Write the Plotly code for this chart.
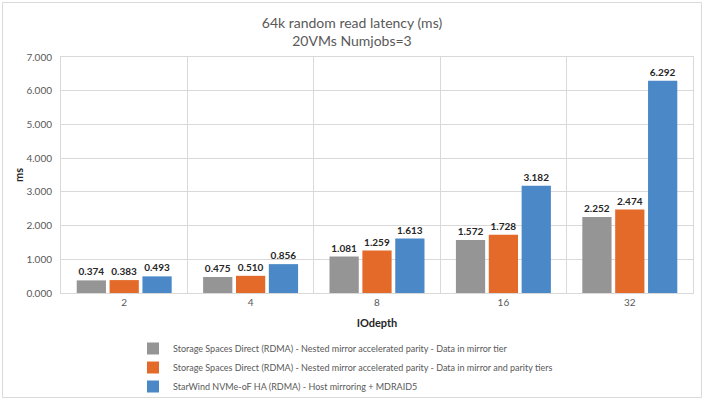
import plotly.graph_objects as go

categories = ["2", "4", "8", "16", "32"]
series_names = [
    "Storage Spaces Direct (RDMA) - Nested mirror accelerated parity - Data in mirror tier",
    "Storage Spaces Direct (RDMA) - Nested mirror accelerated parity - Data in mirror and parity tiers",
    "StarWind NVMe-oF HA (RDMA) - Host mirroring + MDRAID5",
]
s2d_mirror = [0.374, 0.475, 1.081, 1.572, 2.252]
s2d_mirror_parity = [0.383, 0.510, 1.259, 1.728, 2.474]
starwind = [0.493, 0.856, 1.613, 3.182, 6.292]
colors = ["#959595", "#E46A2A", "#4A88C8"]

W, H = 704, 400
L, R, T, B = 61, 11, 57, 107
FONT = "Lato, Open Sans, sans-serif"

fig = go.Figure()
for name, vals, col in zip(series_names, [s2d_mirror, s2d_mirror_parity, starwind], colors):
    fig.add_trace(go.Bar(
        x=categories, y=vals, name=name,
        marker=dict(color=col, line=dict(width=0)),
        text=[f"{v:.3f}" for v in vals],
        textposition="outside",
        textfont=dict(size=10, color="#262626", family=FONT),
        texttemplate="<b>%{text}</b>",
        cliponaxis=False,
    ))

pw = W - L - R
ph = H - T - B
def px_x(p):
    return (p - L) / pw
def px_y(p):
    return (H - B - p) / ph

fig.update_layout(
    width=W, height=H,
    margin=dict(l=L, r=R, t=T, b=B, autoexpand=False),
    paper_bgcolor="white", plot_bgcolor="white",
    font=dict(family=FONT, color="#595959"),
    title=dict(
        text="64k random read latency (ms)<br>20VMs Numjobs=3",
        x=0.5, xanchor="center", y=0.93, yanchor="top",
        font=dict(size=14, color="#595959", family=FONT),
    ),
    barmode="group", bargap=0.22, bargroupgap=0.11,
    xaxis=dict(
        type="category", tickson="boundaries",
        showgrid=True, gridcolor="#D9D9D9", gridwidth=1,
        showline=True, linecolor="#D9D9D9", mirror=True,
        ticks="", tickfont=dict(size=10, color="#595959"),
        title=dict(text="<b>IOdepth</b>", font=dict(size=11, color="#262626"), standoff=12),
    ),
    yaxis=dict(
        range=[0, 7], dtick=1, tickformat=".3f",
        showgrid=True, gridcolor="#D9D9D9", gridwidth=1,
        showline=True, linecolor="#D9D9D9", mirror=True,
        zeroline=False, ticks="", tickfont=dict(size=10, color="#595959"),
        ticklabelstandoff=6,
        title=dict(text="<b>ms</b>", font=dict(size=11, color="#262626"), standoff=0),
    ),
    legend=dict(
        orientation="v", x=px_x(133), xanchor="left", y=px_y(334), yanchor="top",
        font=dict(size=9, color="#595959"), tracegroupgap=0,
        itemsizing="constant", bgcolor="rgba(0,0,0,0)",
    ),
    showlegend=True,
    shapes=[dict(
        type="rect", xref="paper", yref="paper",
        x0=px_x(2.5), x1=px_x(701.5), y0=px_y(397.5), y1=px_y(2.5),
        line=dict(color="#D9D9D9", width=1), fillcolor="rgba(0,0,0,0)", layer="below",
    )],
)

fig.write_html(
    "out.html",
    config={"displayModeBar": False},
    post_script="document.body.style.margin='0';document.body.style.overflow='hidden';",
)
